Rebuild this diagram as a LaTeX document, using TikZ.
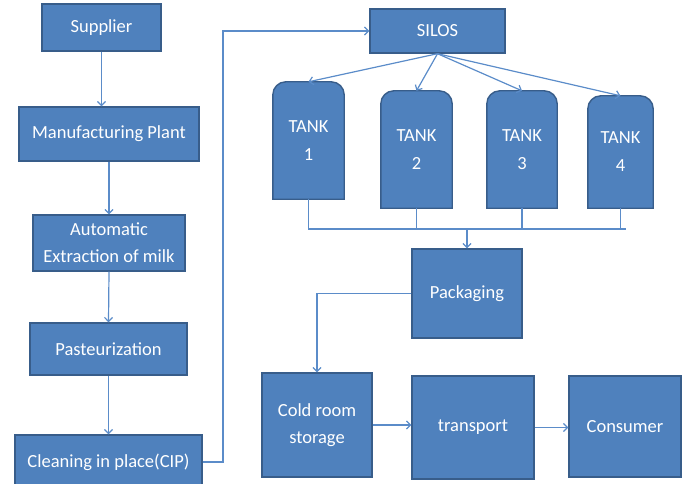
\documentclass[tikz,border=0pt]{standalone}
\usepackage{fontspec}
\setmainfont{Carlito}
\usetikzlibrary{arrows.meta,backgrounds}
\definecolor{boxfill}{HTML}{4F81BD}
\definecolor{boxborder}{HTML}{385D8A}
\definecolor{arrcol}{HTML}{5B8CC9}
\tikzset{
  box/.style={draw=boxborder, fill=boxfill, line width=1.4pt, text=white,
    font=\fontsize{18.5}{27}\selectfont, align=center, inner sep=0pt},
  tanklabel/.style={text=white, font=\fontsize{18.5}{28}\selectfont, align=center, inner sep=0pt},
  tankshape/.style={draw=boxborder, fill=boxfill, line width=1.4pt},
  arr/.style={draw=arrcol, line width=1.2pt, -{Straight Barb[length=4pt,width=8pt]}},
  ln/.style={draw=arrcol, line width=1.2pt}
}
\begin{document}
\begin{tikzpicture}[x=1pt,y=-1pt]
\useasboundingbox (0,0) rectangle (688,484);
% left column
\node[box, minimum width=119pt, minimum height=47pt] (supp) at (101.5,27.5) {Supplier};
\node[box, minimum width=180pt, minimum height=54pt] (man) at (109,134) {Manufacturing Plant};
\node[box, minimum width=152pt, minimum height=56pt] (auto) at (109,243) {Automatic\\Extraction of milk};
\node[box, minimum width=157pt, minimum height=52pt] (past) at (108.5,349) {Pasteurization};
\node[box, minimum width=187pt, minimum height=54pt] (clean) at (108.5,462) {Cleaning in place(CIP)};
% silos and tanks
\node[box, minimum width=135pt, minimum height=44pt] (silos) at (437.5,31) {SILOS};
\node[tanklabel, minimum width=71pt, minimum height=117pt] (t1) at (308.5,140.5) {TANK\\1};
\node[tanklabel, minimum width=71pt, minimum height=117pt] (t2) at (416.5,149.5) {TANK\\2};
\node[tanklabel, minimum width=70pt, minimum height=117pt] (t3) at (522,149.5) {TANK\\3};
\node[tanklabel, minimum width=65pt, minimum height=112pt] (t4) at (620.5,152) {TANK\\4};
\begin{scope}[on background layer]
\foreach \t in {t1,t2,t3,t4}{
  \path[tankshape] (\t.south west) [rounded corners=13pt] -- (\t.north west) -- (\t.north east) [sharp corners] -- (\t.south east) -- cycle;
}
\end{scope}
% lower right
\node[box, minimum width=110pt, minimum height=89pt] (pack) at (467,293.5) {Packaging};
\node[box, minimum width=110pt, minimum height=104pt] (cold) at (317,425) {Cold room\\storage};
\node[box, minimum width=122pt, minimum height=103pt] (trans) at (473,427.5) {transport};
\node[box, minimum width=112pt, minimum height=101pt] (cons) at (625,426.5) {Consumer};
% connectors left column
\draw[arr] (supp.south) -- (supp.south |- man.north);
\draw[arr] (man.south) -- (auto.north);
\draw[arr] (auto.south) -- (past.north);
\draw[arr] (past.south) -- (clean.north);
\coordinate (c1) at (223,31);
\draw[arr] (clean.east) -| (c1) -- (silos.west);
% silos to tanks
\foreach \t in {t1,t2,t3,t4}{
  \draw[arr] (silos.south) -- (\t.north);
}
% tank bus
\coordinate (busR) at (626,229);
\draw[ln] (t1.south) |- (busR);
\foreach \t in {t2,t3,t4}{
  \draw[ln] (\t.south) -- (\t.south |- busR);
}
\draw[arr] (pack.north |- busR) -- (pack.north);
% packaging to cold room and onwards
\draw[arr] (pack.west) -| (cold.north);
\draw[arr] (cold.east) -- (cold.east -| trans.west);
\draw[arr] (trans.east) -- (trans.east -| cons.west);
\end{tikzpicture}
\end{document}
